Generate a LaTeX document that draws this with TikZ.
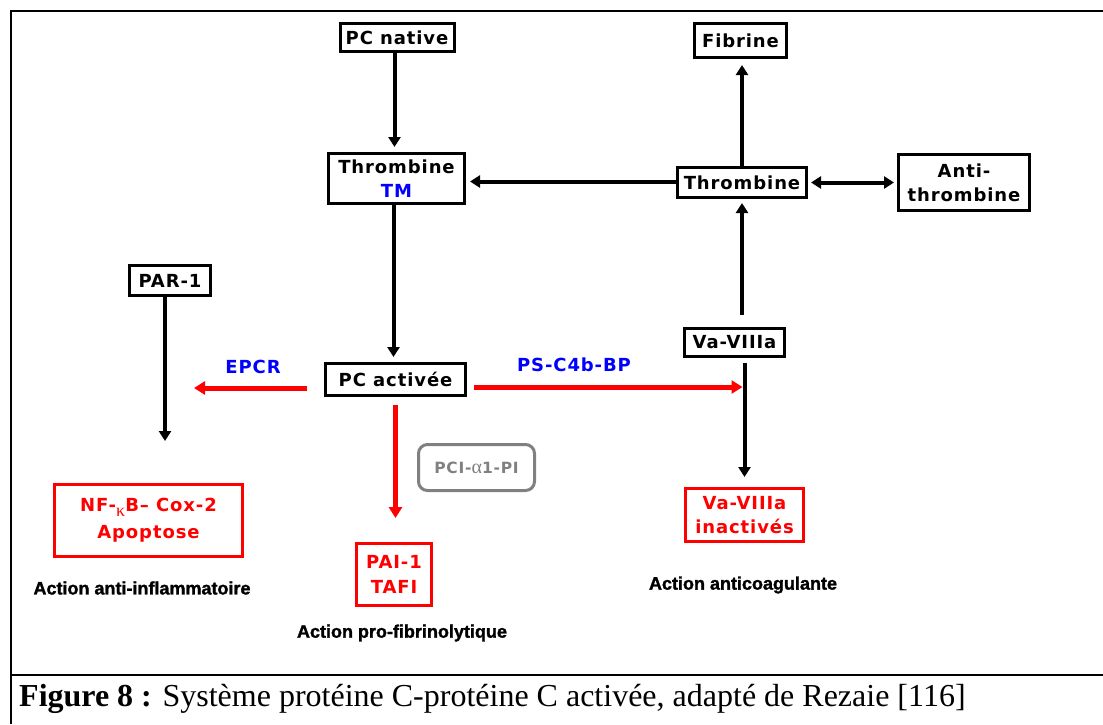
\documentclass[tikz,border=0pt]{standalone}
\usepackage{fontspec}
\setmainfont{Liberation Serif}
\newfontfamily\djfont[LetterSpace=5]{DejaVu Sans}
\newfontfamily\arfont[BoldFeatures={FakeBold=1.5}]{Liberation Sans}
\usetikzlibrary{arrows.meta}
\definecolor{myred}{RGB}{255,0,0}
\definecolor{myblue}{RGB}{0,0,255}
\definecolor{mygray}{RGB}{128,128,128}
\newcommand{\subkappa}{\raisebox{-5pt}{\fontsize{18}{18}\selectfont\rmfamily\mdseries κ}}
\newcommand{\seralpha}{{\fontsize{20}{20}\selectfont\rmfamily\mdseries α}}
\tikzset{
  box/.style={draw=black, line width=3pt, inner sep=0pt, align=center,
    font=\djfont\bfseries\fontsize{18}{24}\selectfont},
  redbox/.style={box, draw=myred, text=myred},
  lbl/.style={inner sep=0pt, font=\djfont\bfseries\fontsize{18}{22}\selectfont},
  act/.style={inner sep=0pt, font=\arfont\bfseries\fontsize{18}{21}\selectfont},
  arr/.style={line width=4pt, -{Triangle[length=10pt,width=12pt]}},
  darr/.style={line width=4pt, {Triangle[length=10pt,width=12pt]}-{Triangle[length=10pt,width=12pt]}},
  rarr/.style={line width=5pt, draw=myred, -{Triangle[length=11pt,width=13pt]}},
  frame/.style={line width=2.5pt}
}
\begin{document}
\begin{tikzpicture}[x=1pt,y=-1pt]
\useasboundingbox (0,0) rectangle (1103,724);
% frame
\draw[frame] (1103,11) -- (11,11) -- (11,724);
\draw[frame] (11,675) -- (1103,675);
% nodes
\node[box, minimum width=114pt, minimum height=28pt] (pcn) at (397,37.5) {PC native};
\node[box, minimum width=136pt, minimum height=50pt] (thtm) at (396.5,178.5) {Thrombine\\\textcolor{myblue}{TM}};
\node[box, minimum width=92pt, minimum height=34pt] (fib) at (740.5,40.5) {Fibrine};
\node[box, minimum width=129pt, minimum height=30pt] (thr) at (742,182.5) {Thrombine};
\node[box, minimum width=131pt, minimum height=56pt] (anti) at (964,182.5) {Anti-\\thrombine};
\node[box, minimum width=81pt, minimum height=30pt] (par) at (170,280.5) {PAR-1};
\node[box, minimum width=140pt, minimum height=32pt] (pca) at (395.5,379.5) {PC activée};
\node[box, minimum width=100pt, minimum height=28pt] (va) at (734.5,342.5) {Va-VIIIa};
\node[redbox, minimum width=188pt, minimum height=72pt] (nfkb) at (148.5,520.5) {NF-\subkappa B– Cox-2\\[3pt]Apoptose};
\node[redbox, minimum width=75pt, minimum height=62pt] (pai) at (394,574.5) {PAI-1\\[1pt]TAFI};
\node[redbox, minimum width=118pt, minimum height=53pt] (vai) at (744.5,515) {Va-VIIIa\\inactivés};
\node[draw=mygray, line width=3pt, rounded corners=9pt, inner sep=0pt,
  minimum width=116pt, minimum height=46pt, text=mygray,
  font=\djfont\bfseries\fontsize{15.5}{18}\selectfont] (pci) at (476.5,467.5) {PCI-\seralpha 1-PI};
% labels
\node[lbl, text=myblue] (epcr) at (253,367) {EPCR};
\node[lbl, text=myblue] (ps) at (574,365) {PS-C4b-BP};
\node[act] (a1) at (142,588) {Action anti-inflammatoire};
\node[act] (a2) at (402,633) {Action pro-fibrinolytique};
\node[act] (a3) at (743,585) {Action anticoagulante};
% caption
\node[anchor=west, inner sep=0pt, font=\fontsize{32}{36}\selectfont] (cap) at (19,699)
  {\textbf{Figure 8 :} Système protéine C-protéine C activée, adapté de Rezaie [116]};
% connectors
\coordinate (epcrend) at (194,388);
\coordinate (parend) at (165,441);
\draw[arr, shorten >=5pt] ([xshift=-2.5pt]pcn.south) -- ([xshift=-2.5pt]pcn.south |- thtm.north);
\draw[arr, shorten >=4pt] ([yshift=1pt]thr.west) -- ([yshift=1pt]thr.west -| thtm.east);
\draw[arr, shorten >=6pt] (thr.north) -- (thr.north |- fib.south);
\draw[darr, shorten <=3pt, shorten >=3pt] (thr.east) -- (thr.east -| anti.west);
\draw[arr, shorten >=4pt] ([yshift=12pt]va.north -| thr.south) -- (thr.south);
\draw[arr, shorten <=5pt, shorten >=10pt] (va.south -| vai.north) -- (vai.north);
\draw[arr, shorten >=5pt] ([xshift=-3pt]thtm.south) -- ([xshift=-3pt]thtm.south |- pca.north);
\draw[arr] ([xshift=-5pt]par.south) -- (parend);
\draw[rarr, shorten <=17pt] ([yshift=-8.5pt]pca.west) -- (epcrend);
\draw[rarr, shorten <=7pt, shorten >=2pt] ([yshift=-7.5pt]pca.east) -- ([yshift=-7.5pt]pca.east -| vai.north);
\draw[rarr, shorten <=8pt, shorten >=24pt] (pca.south) -- (pca.south |- pai.north);
\end{tikzpicture}
\end{document}
